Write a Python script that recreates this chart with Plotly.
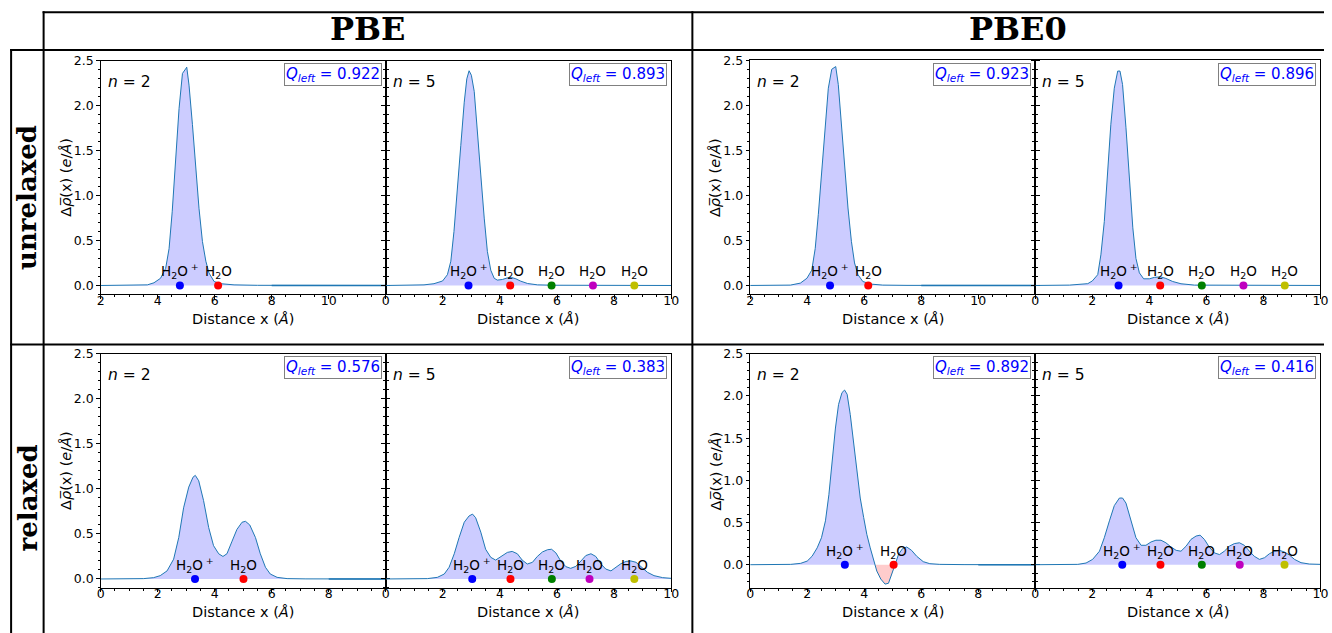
import plotly.graph_objects as go

W, H = 1332, 633

# ---------------- data ----------------
pbe_unrel_n2_x = [2.0, 3.3, 3.64, 3.87, 4.1, 4.28, 4.4, 4.51, 4.63, 4.75, 4.87, 4.92, 4.98, 5.02, 5.1, 5.22, 5.33, 5.45, 5.57, 5.69, 5.8, 5.98, 6.21, 6.68, 7.5, 12.0]
pbe_unrel_n2_y = [0, 0.002, 0.007, 0.03, 0.08, 0.19, 0.41, 0.82, 1.38, 1.97, 2.36, 2.39, 2.41, 2.43, 2.23, 1.79, 1.30, 0.86, 0.49, 0.27, 0.14, 0.044, 0.02, 0.007, 0.002, 0]

pbe_unrel_n5_x = [0, 1.0, 1.34, 1.69, 1.99, 2.16, 2.28, 2.39, 2.51, 2.63, 2.75, 2.84, 2.92, 3.0, 3.1, 3.21, 3.33, 3.45, 3.56, 3.68, 3.8, 3.91, 4.09, 4.26, 4.4, 4.56, 4.73, 4.97, 5.32, 5.9, 10]
pbe_unrel_n5_y = [0, 0.002, 0.007, 0.02, 0.05, 0.12, 0.27, 0.6, 1.04, 1.56, 2.04, 2.30, 2.39, 2.34, 2.16, 1.75, 1.23, 0.75, 0.38, 0.17, 0.08, 0.06, 0.067, 0.085, 0.09, 0.074, 0.048, 0.022, 0.007, 0.003, 0]

pbe0_unrel_n2_x = [2, 3.0, 3.41, 3.76, 3.99, 4.16, 4.28, 4.39, 4.51, 4.62, 4.74, 4.86, 4.92, 5.0, 5.09, 5.2, 5.32, 5.43, 5.55, 5.66, 5.78, 5.95, 6.24, 6.65, 7.5, 12]
pbe0_unrel_n2_y = [0, 0.001, 0.004, 0.026, 0.08, 0.17, 0.41, 0.79, 1.27, 1.79, 2.19, 2.40, 2.41, 2.43, 2.23, 1.79, 1.30, 0.86, 0.49, 0.25, 0.12, 0.044, 0.015, 0.004, 0.001, 0]

pbe0_unrel_n5_x = [0, 1.2, 1.84, 2.0, 2.19, 2.3, 2.42, 2.54, 2.65, 2.77, 2.89, 2.97, 3.06, 3.18, 3.3, 3.42, 3.53, 3.65, 3.8, 4.0, 4.18, 4.39, 4.58, 4.82, 5.11, 5.58, 10]
pbe0_unrel_n5_y = [0, 0.004, 0.02, 0.05, 0.12, 0.34, 0.71, 1.23, 1.79, 2.19, 2.38, 2.38, 2.23, 1.75, 1.16, 0.64, 0.30, 0.14, 0.074, 0.074, 0.09, 0.096, 0.078, 0.044, 0.019, 0.004, 0]

pbe_rel_n2_x = [0, 1.0, 1.51, 1.86, 2.09, 2.33, 2.56, 2.74, 2.91, 3.09, 3.24, 3.32, 3.44, 3.61, 3.79, 3.96, 4.14, 4.29, 4.43, 4.61, 4.78, 4.96, 5.08, 5.23, 5.43, 5.6, 5.78, 5.95, 6.19, 6.54, 7.2, 10]
pbe_rel_n2_y = [0, 0.001, 0.004, 0.015, 0.037, 0.09, 0.22, 0.46, 0.79, 1.02, 1.13, 1.15, 1.09, 0.87, 0.57, 0.37, 0.28, 0.25, 0.28, 0.42, 0.55, 0.63, 0.64, 0.60, 0.46, 0.28, 0.13, 0.055, 0.018, 0.004, 0.001, 0]

pbe_rel_n5_x = [0, 1.0, 1.46, 1.81, 2.05, 2.22, 2.4, 2.57, 2.75, 2.92, 3.04, 3.15, 3.33, 3.5, 3.68, 3.85, 4.03, 4.26, 4.43, 4.61, 4.78, 4.96, 5.14, 5.31, 5.49, 5.67, 5.81, 5.96, 6.13, 6.31, 6.48, 6.66, 6.84, 7.01, 7.19, 7.36, 7.54, 7.71, 7.89, 8.06, 8.24, 8.42, 8.59, 8.77, 8.94, 9.17, 9.4, 9.7, 10]
pbe_rel_n5_y = [0, 0.001, 0.004, 0.018, 0.055, 0.13, 0.28, 0.46, 0.63, 0.70, 0.72, 0.68, 0.52, 0.33, 0.24, 0.21, 0.25, 0.295, 0.306, 0.28, 0.21, 0.166, 0.185, 0.25, 0.30, 0.325, 0.33, 0.29, 0.20, 0.137, 0.118, 0.14, 0.20, 0.26, 0.28, 0.25, 0.166, 0.11, 0.09, 0.13, 0.17, 0.195, 0.20, 0.185, 0.137, 0.074, 0.037, 0.015, 0.007]

pbe0_rel_n2_x = [0, 1.0, 1.42, 1.77, 2.0, 2.17, 2.35, 2.5, 2.64, 2.76, 2.87, 2.99, 3.1, 3.22, 3.31, 3.4, 3.51, 3.63, 3.74, 3.86, 3.98, 4.09, 4.21, 4.33, 4.38, 4.44, 4.58, 4.73, 4.85, 4.97, 5.08, 5.2, 5.34, 5.49, 5.66, 5.84, 6.07, 6.3, 6.65, 7.5, 10]
pbe0_rel_n2_y = [0, 0.001, 0.004, 0.016, 0.043, 0.10, 0.20, 0.32, 0.52, 0.83, 1.23, 1.62, 1.90, 2.04, 2.07, 2.02, 1.78, 1.43, 1.07, 0.79, 0.56, 0.36, 0.20, 0.043, 0.0, -0.075, -0.17, -0.23, -0.22, -0.115, 0.0, 0.12, 0.19, 0.21, 0.17, 0.10, 0.036, 0.012, 0.004, 0.001, 0]

pbe0_rel_n5_x = [0, 1.0, 1.49, 1.78, 2.01, 2.25, 2.42, 2.6, 2.77, 2.95, 3.06, 3.18, 3.36, 3.53, 3.71, 3.88, 4.06, 4.23, 4.41, 4.58, 4.76, 4.94, 5.11, 5.29, 5.46, 5.64, 5.78, 5.93, 6.1, 6.28, 6.46, 6.63, 6.81, 6.98, 7.16, 7.33, 7.51, 7.68, 7.86, 8.04, 8.21, 8.39, 8.56, 8.74, 8.91, 9.09, 9.32, 9.61, 10]
pbe0_rel_n5_y = [0, 0.001, 0.004, 0.02, 0.063, 0.16, 0.32, 0.52, 0.70, 0.79, 0.79, 0.73, 0.52, 0.32, 0.23, 0.23, 0.27, 0.29, 0.29, 0.26, 0.21, 0.17, 0.16, 0.22, 0.30, 0.34, 0.35, 0.30, 0.21, 0.14, 0.12, 0.16, 0.22, 0.25, 0.26, 0.23, 0.16, 0.10, 0.063, 0.083, 0.13, 0.16, 0.17, 0.15, 0.115, 0.063, 0.024, 0.008, 0.004]

# molecule positions (x, Angstrom)
mol_pbe_unrel_n2 = [4.78, 6.12]
mol_pbe_unrel_n5 = [2.90, 4.36, 5.81, 7.26, 8.71]
mol_pbe0_unrel_n2 = [4.80, 6.14]
mol_pbe0_unrel_n5 = [2.92, 4.38, 5.84, 7.30, 8.75]
mol_pbe_rel_n2 = [3.31, 5.01]
mol_pbe_rel_n5 = [3.03, 4.37, 5.82, 7.14, 8.71]
mol_pbe0_rel_n2 = [3.32, 5.03]
mol_pbe0_rel_n5 = [3.05, 4.39, 5.84, 7.17, 8.74]

q_left = ["0.922", "0.893", "0.923", "0.896", "0.576", "0.383", "0.892", "0.416"]
n_values = ["2", "5", "2", "5", "2", "5", "2", "5"]
col_titles = ["PBE", "PBE0"]
row_titles = ["unrelaxed", "relaxed"]
y_ticks = [0.0, 0.5, 1.0, 1.5, 2.0, 2.5]

# ---------------- styling / layout ----------------
mol_colors = ["#0000ff", "#ff0000", "#008000", "#bf00bf", "#bfbf00"]
LINE = "#1f77b4"
POS_FILL = "rgba(0,0,255,0.2)"
NEG_FILL = "rgba(255,0,0,0.2)"
FONT = "DejaVu Sans"

# calibration of the page capture (measured from a previous render)
OFF_X, SC_X = 3.4, 0.9906
OFF_Y, SC_Y = 6.35, 0.989

def px2x(px):
    return ((px - OFF_X) / SC_X) / W

def py2y(py):
    return 1 - ((py - OFF_Y) / SC_Y) / H

panels = [
    dict(x=pbe_unrel_n2_x, y=pbe_unrel_n2_y, mol=mol_pbe_unrel_n2, box=(100, 385, 59.3, 293.3), xr=[2, 12], yr=[-0.1, 2.5], xt=[2, 4, 6, 8, 10], first=True),
    dict(x=pbe_unrel_n5_x, y=pbe_unrel_n5_y, mol=mol_pbe_unrel_n5, box=(385, 670.3, 59.3, 293.3), xr=[0, 10], yr=[-0.1, 2.5], xt=[0, 2, 4, 6, 8, 10], first=False),
    dict(x=pbe0_unrel_n2_x, y=pbe0_unrel_n2_y, mol=mol_pbe0_unrel_n2, box=(749.3, 1034.3, 58.7, 293.3), xr=[2, 12], yr=[-0.1, 2.5], xt=[2, 4, 6, 8, 10], first=True),
    dict(x=pbe0_unrel_n5_x, y=pbe0_unrel_n5_y, mol=mol_pbe0_unrel_n5, box=(1034.3, 1319.3, 58.7, 293.3), xr=[0, 10], yr=[-0.1, 2.5], xt=[0, 2, 4, 6, 8, 10], first=False),
    dict(x=pbe_rel_n2_x, y=pbe_rel_n2_y, mol=mol_pbe_rel_n2, box=(100, 385, 352.7, 587.3), xr=[0, 10], yr=[-0.1, 2.5], xt=[0, 2, 4, 6, 8], first=True),
    dict(x=pbe_rel_n5_x, y=pbe_rel_n5_y, mol=mol_pbe_rel_n5, box=(385, 670.3, 352.7, 587.3), xr=[0, 10], yr=[-0.1, 2.5], xt=[0, 2, 4, 6, 8, 10], first=False),
    dict(x=pbe0_rel_n2_x, y=pbe0_rel_n2_y, mol=mol_pbe0_rel_n2, box=(749.3, 1034.3, 352.7, 587.3), xr=[0, 10], yr=[-0.276, 2.5], xt=[0, 2, 4, 6, 8], first=True),
    dict(x=pbe0_rel_n5_x, y=pbe0_rel_n5_y, mol=mol_pbe0_rel_n5, box=(1034.3, 1319.3, 352.7, 587.3), xr=[0, 10], yr=[-0.276, 2.5], xt=[0, 2, 4, 6, 8, 10], first=False),
]

fig = go.Figure()
annotations = []
layout_axes = {}

for i, p in enumerate(panels, start=1):
    sfx = "" if i == 1 else str(i)
    xa, ya = "x" + sfx, "y" + sfx
    xs, ys = p["x"], p["y"]
    pos = [max(v, 0) for v in ys]
    neg = [min(v, 0) for v in ys]
    fig.add_trace(go.Scatter(x=xs, y=pos, mode="lines", line=dict(width=0, color=LINE),
                             fill="tozeroy", fillcolor=POS_FILL, xaxis=xa, yaxis=ya, hoverinfo="skip"))
    if min(ys) < 0:
        fig.add_trace(go.Scatter(x=xs, y=neg, mode="lines", line=dict(width=0, color=LINE),
                                 fill="tozeroy", fillcolor=NEG_FILL, xaxis=xa, yaxis=ya, hoverinfo="skip"))
    fig.add_trace(go.Scatter(x=xs, y=ys, mode="lines", line=dict(width=1, color=LINE),
                             xaxis=xa, yaxis=ya))
    if p["first"]:
        # periodic tail drawn twice in the original -> darker baseline
        fig.add_trace(go.Scatter(x=[8, p["xr"][1]], y=[0, 0], mode="lines",
                                 line=dict(width=1.6, color=LINE), xaxis=xa, yaxis=ya))
    # molecule markers
    fig.add_trace(go.Scatter(x=p["mol"], y=[0] * len(p["mol"]), mode="markers",
                             marker=dict(size=8, color=mol_colors[:len(p["mol"])]),
                             xaxis=xa, yaxis=ya))
    for k, mx in enumerate(p["mol"]):
        txt = "H<sub>2</sub>O<sup> +</sup>" if k == 0 else "H<sub>2</sub>O"
        annotations.append(dict(x=mx, y=0, xref=xa, yref=ya, text=txt, showarrow=False,
                                xanchor="center", yanchor="bottom", yshift=2,
                                font=dict(size=13.5, color="black", family=FONT)))

    L, R, T, B = p["box"]
    layout_axes["xaxis" + sfx] = dict(
        domain=[px2x(L), px2x(R)], range=p["xr"], anchor=ya,
        tickmode="array", tickvals=p["xt"], ticktext=[str(v) for v in p["xt"]],
        ticks="outside", ticklen=3.5, tickwidth=1, tickcolor="black",
        ticklabelstandoff=-9,
        showline=True, linecolor="black", linewidth=1, mirror=True,
        showgrid=False, zeroline=False,
        tickfont=dict(size=12.5, color="black", family=FONT),
        minor=dict(dtick=0.5, tick0=0, ticks="outside", ticklen=2, tickcolor="black", showgrid=False),
    )
    layout_axes["yaxis" + sfx] = dict(
        domain=[py2y(B), py2y(T)], range=p["yr"], anchor=xa,
        tickmode="array", tickvals=y_ticks, ticktext=["%.1f" % v for v in y_ticks],
        showticklabels=p["first"],
        ticks="outside", ticklen=3.5, tickwidth=1, tickcolor="black",
        showline=True, linecolor="black", linewidth=1,
        mirror="ticks" if p["first"] else True,
        showgrid=False, zeroline=False,
        tickfont=dict(size=12.5, color="black", family=FONT),
        minor=dict(dtick=0.1, tick0=0, ticks="outside", ticklen=2, tickcolor="black", showgrid=False),
    )

    # n = ... label
    annotations.append(dict(x=0.018, y=1 - 21.5 / (B - T), xref=xa + " domain", yref=ya + " domain",
                            text="<i>n</i> = " + n_values[i - 1], showarrow=False,
                            xanchor="left", yanchor="middle",
                            font=dict(size=15.5, color="black", family=FONT)))
    # Q_left box
    annotations.append(dict(x=1 - 4 / (R - L), y=1 - 2.5 / (B - T), xref=xa + " domain", yref=ya + " domain",
                            text="<i>Q</i><sub><i>left</i></sub> = " + q_left[i - 1], showarrow=False,
                            xanchor="right", yanchor="top", bgcolor="white",
                            bordercolor="#808080", borderwidth=1, borderpad=1,
                            font=dict(size=15, color="#0000ff", family=FONT)))
    # x axis title
    annotations.append(dict(x=0.5, y=py2y(B + 24.5), xref=xa + " domain", yref="paper",
                            text="Distance x (<i>Å</i>)", showarrow=False,
                            xanchor="center", yanchor="middle",
                            font=dict(size=14.5, color="black", family=FONT)))
    if p["first"]:
        annotations.append(dict(x=px2x(L - 34.5), y=py2y((T + B) / 2), xref="paper", yref="paper",
                                text="Δ<i>ρ̅</i>(x) (<i>e</i>/<i>Å</i>)", showarrow=False, textangle=-90,
                                xanchor="center", yanchor="middle",
                                font=dict(size=14.5, color="black", family=FONT)))

# column / row headers
for cx, t in zip([367, 1017], col_titles):
    annotations.append(dict(x=px2x(cx), y=py2y(27), xref="paper", yref="paper", text="<b>" + t + "</b>",
                            showarrow=False, xanchor="center", yanchor="middle",
                            font=dict(size=32, color="black", family="DejaVu Serif")))
for cy, t in zip([196, 497], row_titles):
    annotations.append(dict(x=px2x(27), y=py2y(cy), xref="paper", yref="paper", text="<b>" + t + "</b>",
                            showarrow=False, textangle=-90, xanchor="center", yanchor="middle",
                            font=dict(size=26, color="black", family="DejaVu Serif")))

# table lines
shapes = []
def hline(y, x0, x1):
    shapes.append(dict(type="line", xref="paper", yref="paper", x0=px2x(x0), x1=min(px2x(x1), 1),
                       y0=py2y(y), y1=py2y(y), line=dict(color="black", width=2)))
def vline(x, y0, y1):
    shapes.append(dict(type="line", xref="paper", yref="paper", x0=px2x(x), x1=px2x(x),
                       y0=py2y(y0), y1=max(py2y(y1), 0), line=dict(color="black", width=2)))
hline(10.5, 42, W)
hline(48.5, 9.5, W)
hline(343.5, 9.5, W)
vline(10.5, 47.5, H)
vline(43, 9.5, H)
vline(691.5, 9.5, H)

fig.update_layout(
    width=W, height=H, margin=dict(l=0, r=0, t=0, b=0),
    paper_bgcolor="white", plot_bgcolor="white",
    showlegend=False, annotations=annotations, shapes=shapes,
    font=dict(family=FONT, color="black"),
    **layout_axes,
)

fig.write_html("out.html")
